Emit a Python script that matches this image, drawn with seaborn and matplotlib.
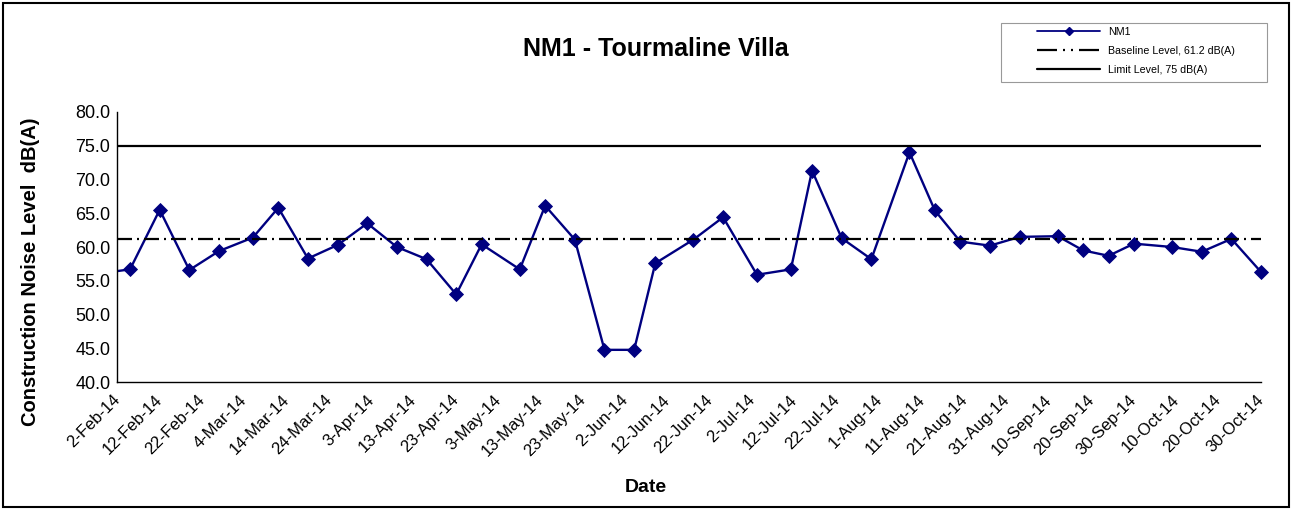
import matplotlib
matplotlib.use("Agg")
import matplotlib.pyplot as plt
from matplotlib.lines import Line2D
from matplotlib.patches import Rectangle
from matplotlib.ticker import FormatStrFormatter, MultipleLocator
from matplotlib.transforms import Bbox, TransformedBbox
import pandas as pd
import seaborn as sns

# NM1 readings (first one sits just before the axis start)
DATES = [
    "2014-01-29", "2014-02-05", "2014-02-12", "2014-02-19", "2014-02-26",
    "2014-03-06", "2014-03-12", "2014-03-19", "2014-03-26", "2014-04-02",
    "2014-04-09", "2014-04-16", "2014-04-23", "2014-04-29", "2014-05-08",
    "2014-05-14", "2014-05-21", "2014-05-28", "2014-06-04", "2014-06-09",
    "2014-06-18", "2014-06-25", "2014-07-03", "2014-07-11", "2014-07-16",
    "2014-07-23", "2014-07-30", "2014-08-08", "2014-08-14", "2014-08-20",
    "2014-08-27", "2014-09-03", "2014-09-12", "2014-09-18", "2014-09-24",
    "2014-09-30", "2014-10-09", "2014-10-16", "2014-10-23", "2014-10-30",
]
NM1 = [
    56.1, 56.7, 65.5, 56.6, 59.4,
    61.4, 65.8, 58.3, 60.3, 63.5,
    60.0, 58.2, 53.0, 60.4, 56.7,
    66.1, 61.1, 44.8, 44.8, 57.6,
    61.1, 64.4, 55.9, 56.7, 71.3,
    61.3, 58.2, 74.0, 65.4, 60.8,
    60.2, 61.5, 61.6, 59.5, 58.7,
    60.5, 60.0, 59.3, 61.2, 56.3,
]
BASELINE = 61.2
LIMIT = 75.0

TICK_LABELS = [
    "2-Feb-14", "12-Feb-14", "22-Feb-14", "4-Mar-14", "14-Mar-14", "24-Mar-14",
    "3-Apr-14", "13-Apr-14", "23-Apr-14", "3-May-14", "13-May-14", "23-May-14",
    "2-Jun-14", "12-Jun-14", "22-Jun-14", "2-Jul-14", "12-Jul-14", "22-Jul-14",
    "1-Aug-14", "11-Aug-14", "21-Aug-14", "31-Aug-14", "10-Sep-14", "20-Sep-14",
    "30-Sep-14", "10-Oct-14", "20-Oct-14", "30-Oct-14",
]

NAVY = "#000080"

sns.set_style("white")
plt.rcParams["font.family"] = ["Liberation Sans", "DejaVu Sans"]
plt.rcParams["text.color"] = "black"
plt.rcParams["xtick.color"] = "black"
plt.rcParams["ytick.color"] = "black"

df = pd.DataFrame({"date": pd.to_datetime(DATES), "level": NM1})
tick_dates = pd.to_datetime(TICK_LABELS, format="%d-%b-%y")

fig = plt.figure(figsize=(12.95, 5.09), dpi=100)
ax = fig.add_axes([0.0906, 0.2489, 0.8832, 0.5316])

sns.lineplot(data=df, x="date", y="level", ax=ax, color=NAVY, lw=1.7,
             marker="D", markersize=7, markeredgewidth=0.6,
             markeredgecolor=NAVY, sort=False, estimator=None)
# clip on the left like the original, let the last marker spill over the right edge
ax.lines[0].set_clip_box(TransformedBbox(Bbox([[0, 0], [1.03, 1.03]]), ax.transAxes))

ax.axhline(LIMIT, color="black", lw=1.6)
ax.axhline(BASELINE, color="black", lw=1.6, dashes=(6.75, 2.25, 0.9, 2.25))

ax.set_xlim(tick_dates[0], tick_dates[-1])
ax.set_ylim(40, 80)
ax.yaxis.set_major_locator(MultipleLocator(5))
ax.yaxis.set_major_formatter(FormatStrFormatter("%.1f"))
ax.set_xticks(tick_dates)
ax.set_xticklabels(TICK_LABELS, rotation=45, ha="right", va="center",
                   rotation_mode="anchor")

ax.set_xlabel("")
ax.set_ylabel("")
for side in ["top", "right"]:
    ax.spines[side].set_visible(False)
for side in ["left", "bottom"]:
    ax.spines[side].set_color("black")
    ax.spines[side].set_linewidth(1.0)

ax.tick_params(axis="x", direction="out", length=3, width=0.8, color="#808080",
               labelsize=12, pad=8)
ax.tick_params(axis="y", direction="out", length=2, width=0.8, color="black",
               labelsize=13, pad=3)

fig.text(656 / 1295, 1 - 49 / 509, "NM1 - Tourmaline Villa", ha="center",
         va="center", fontsize=18, fontweight="bold")
fig.text(31 / 1295, 1 - 272 / 509, "Construction Noise Level  dB(A)",
         rotation=90, ha="center", va="center", fontsize=14.5, fontweight="bold")
fig.text(646 / 1295, 1 - 487 / 509, "Date", ha="center", va="center",
         fontsize=14, fontweight="bold")

# legend: frame drawn separately since the Excel box has uneven padding
fig.patches.append(Rectangle((1001 / 1295, 1 - 81.7 / 509), 266 / 1295, 59 / 509,
                             transform=fig.transFigure, fill=False,
                             edgecolor="#999999", lw=0.8))
handles = [
    Line2D([], [], color=NAVY, lw=1.3, marker="D", markersize=4),
    Line2D([], [], color="black", lw=1.6, dashes=(9, 2.7, 0.9, 2.7, 0.9, 2.7)),
    Line2D([], [], color="black", lw=1.6),
]
labels = ["NM1", "Baseline Level, 61.2 dB(A)", "Limit Level, 75 dB(A)"]
fig.legend(handles, labels, loc="upper left",
           bbox_to_anchor=(1037 / 1295, 1 - 27 / 509), frameon=False,
           borderpad=0, borderaxespad=0, fontsize=7.7, handlelength=5.9,
           handletextpad=0.75, labelspacing=0.85)

# outer chart border
fig.patches.append(Rectangle((2.5 / 1295, 2.5 / 509), 1286.5 / 1295, 504 / 509,
                             transform=fig.transFigure, fill=False,
                             edgecolor="black", lw=1.5))

fig.savefig("out.png", dpi=100)
